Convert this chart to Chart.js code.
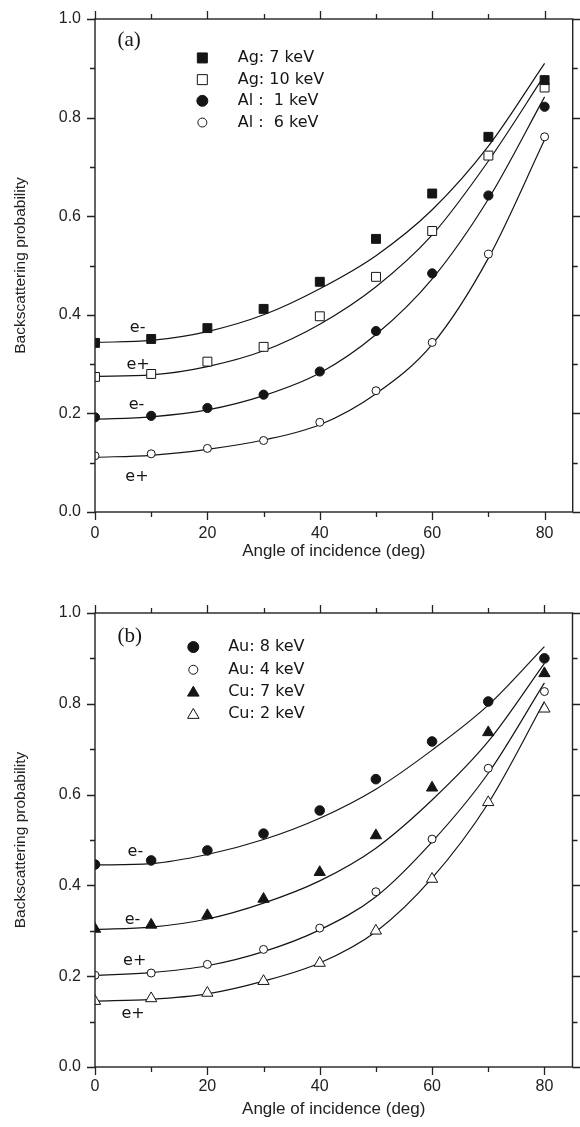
<!DOCTYPE html>
<html>
<head>
<meta charset="utf-8">
<script src="https://cdn.jsdelivr.net/npm/chart.js@4/dist/chart.umd.min.js"></script>
<style>
  body { margin: 0; background: #fff; }
  canvas { display: block; }
</style>
</head>
<body>
<canvas id="chart-a" width="580" height="563"></canvas>
<canvas id="chart-b" width="580" height="564"></canvas>
<script>
// angles of incidence (deg)
const angles = [0, 10, 20, 30, 40, 50, 60, 70, 80];

// panel (a) measured points
const agE7  = [0.343, 0.351, 0.373, 0.412, 0.467, 0.554, 0.646, 0.761, 0.876];
const agP10 = [0.274, 0.280, 0.305, 0.335, 0.397, 0.477, 0.570, 0.723, 0.861];
const alE1  = [0.192, 0.195, 0.211, 0.238, 0.285, 0.367, 0.484, 0.642, 0.822];
const alP6  = [0.114, 0.118, 0.129, 0.145, 0.182, 0.246, 0.344, 0.523, 0.761];
const fitAgE7  = [0.344, 0.348, 0.366, 0.400, 0.453, 0.520, 0.613, 0.742, 0.910];
const fitAgP10 = [0.275, 0.278, 0.295, 0.327, 0.381, 0.457, 0.562, 0.712, 0.886];
const fitAlE1  = [0.188, 0.193, 0.207, 0.236, 0.282, 0.360, 0.473, 0.635, 0.842];
const fitAlP6  = [0.111, 0.115, 0.127, 0.146, 0.177, 0.240, 0.340, 0.515, 0.755];

// panel (b) measured points
const auE8 = [0.446, 0.455, 0.477, 0.514, 0.565, 0.634, 0.717, 0.805, 0.900];
const cuE7 = [0.304, 0.313, 0.334, 0.370, 0.429, 0.510, 0.615, 0.737, 0.867];
const auP4 = [0.202, 0.207, 0.226, 0.259, 0.306, 0.386, 0.502, 0.658, 0.827];
const cuP2 = [0.145, 0.151, 0.163, 0.189, 0.229, 0.300, 0.414, 0.583, 0.789];
// panel (b) fitted curves
const fitAuE8 = [0.445, 0.448, 0.468, 0.501, 0.548, 0.612, 0.698, 0.797, 0.926];
const fitCuE7 = [0.303, 0.308, 0.326, 0.361, 0.410, 0.482, 0.588, 0.717, 0.889];
const fitAuP4 = [0.202, 0.208, 0.223, 0.254, 0.302, 0.375, 0.496, 0.647, 0.846];
const fitCuP2 = [0.145, 0.149, 0.161, 0.189, 0.229, 0.298, 0.416, 0.581, 0.805];

const legendA = ['Ag: 7 keV', 'Ag: 10 keV', 'Al :  1 keV', 'Al :  6 keV'];
const legendB = ['Au: 8 keV', 'Au: 4 keV', 'Cu: 7 keV', 'Cu: 2 keV'];
const curveTagsA = ['e-', 'e+', 'e-', 'e+'];
const curveTagsB = ['e-', 'e-', 'e+', 'e+'];

const xTicks = [0, 20, 40, 60, 80];
const yTicks = [0.0, 0.2, 0.4, 0.6, 0.8, 1.0];

const INK = '#151515';
const sans = "'Liberation Sans', Arial, sans-serif";

function pts(values) {
  return angles.map((a, i) => ({ x: a, y: values[i] }));
}

function markers(label, values, shape, filled, r) {
  return {
    type: 'scatter', label, data: pts(values), order: 0,
    pointStyle: shape, pointRadius: r,
    pointBackgroundColor: filled ? INK : '#fff',
    pointBorderColor: INK, pointBorderWidth: 1
  };
}

function fitLine(values) {
  return {
    type: 'line', data: pts(values), order: 1, showLine: true,
    borderColor: INK, borderWidth: 1.2, pointRadius: 0,
    cubicInterpolationMode: 'monotone', fill: false
  };
}

function drawSymbol(ctx, shape, filled, cx, cy, r) {
  ctx.beginPath();
  if (shape === 'rect') {
    ctx.rect(cx - r, cy - r, 2 * r, 2 * r);
  } else if (shape === 'circle') {
    ctx.arc(cx, cy, r, 0, Math.PI * 2);
  } else {
    ctx.moveTo(cx, cy - r * 1.05);
    ctx.lineTo(cx + r * 1.05, cy + r * 0.75);
    ctx.lineTo(cx - r * 1.05, cy + r * 0.75);
    ctx.closePath();
  }
  ctx.fillStyle = filled ? INK : '#fff';
  ctx.fill();
  ctx.lineWidth = 1;
  ctx.strokeStyle = INK;
  ctx.stroke();
}

// frame, minor/major ticks, panel tag, curve tags and the legend
const decor = {
  id: 'decor',
  afterDatasetsDraw(chart, args, opts) {
    const { ctx, chartArea: a, scales: { x, y } } = chart;
    ctx.save();
    ctx.strokeStyle = '#222';
    ctx.lineWidth = 1.4;
    ctx.strokeRect(a.left, a.top, a.right - a.left, a.bottom - a.top);

    ctx.lineWidth = 1.3;
    ctx.beginPath();
    for (let v = 0; v <= 80; v += 10) {
      const px = Math.round(x.getPixelForValue(v)) + 0.5;
      const len = v % 20 === 0 ? 8 : 5;
      ctx.moveTo(px, a.bottom); ctx.lineTo(px, a.bottom + len);
      ctx.moveTo(px, a.top); ctx.lineTo(px, a.top - len);
    }
    for (let i = 0; i <= 10; i++) {
      const py = Math.round(y.getPixelForValue(i / 10)) + 0.5;
      const len = i % 2 === 0 ? 8 : 5;
      ctx.moveTo(a.left, py); ctx.lineTo(a.left - len, py);
      ctx.moveTo(a.right, py); ctx.lineTo(a.right + len, py);
    }
    ctx.stroke();

    ctx.fillStyle = INK;
    ctx.textBaseline = 'middle';
    ctx.textAlign = 'left';
    ctx.font = "21px 'Liberation Serif', 'Times New Roman', serif";
    ctx.fillText(opts.tag, x.getPixelForValue(opts.tagAt[0]), y.getPixelForValue(opts.tagAt[1]));

    ctx.font = "16px 'DejaVu Sans', sans-serif";
    opts.tags.forEach((t, i) => {
      ctx.fillText(t, x.getPixelForValue(opts.tagX[i]), y.getPixelForValue(opts.tagY[i]));
    });

    opts.legend.forEach((text, i) => {
      const cy = y.getPixelForValue(opts.legendY[i]);
      const s = opts.symbols[i];
      drawSymbol(ctx, s[0], s[1], x.getPixelForValue(opts.symbolX), cy, s[2]);
      ctx.fillStyle = INK;
      ctx.fillText(text, x.getPixelForValue(opts.textX), cy);
    });
    ctx.restore();
  }
};

function makeOptions(top, xHeight, tickPad, titlePad, decorOpts) {
  return {
    responsive: false,
    animation: false,
    events: [],
    layout: { padding: { left: 0, right: 2, top: top, bottom: 0 } },
    plugins: { legend: { display: false }, tooltip: { enabled: false }, decor: decorOpts },
    scales: {
      x: {
        type: 'linear', min: 0, max: 85,
        grid: { display: false }, border: { display: false },
        afterBuildTicks: (s) => { s.ticks = xTicks.map(v => ({ value: v })); },
        ticks: { includeBounds: false, padding: tickPad, color: '#222', font: { family: sans, size: 16 } },
        title: { display: true, text: 'Angle of incidence (deg)', color: '#222',
                 font: { family: sans, size: 17 }, padding: { top: 0, bottom: titlePad } },
        afterFit: (s) => { s.height = xHeight; }
      },
      y: {
        type: 'linear', min: 0, max: 1,
        grid: { display: false }, border: { display: false },
        afterBuildTicks: (s) => { s.ticks = yTicks.map(v => ({ value: v })); },
        ticks: { padding: 6, color: '#222', font: { family: sans, size: 16 },
                 callback: (v) => v.toFixed(1) },
        title: { display: true, text: 'Backscattering probability', color: '#222',
                 font: { family: sans, size: 15.5 }, padding: { top: 11, bottom: 0 } },
        afterFit: (s) => { s.width = 95; }
      }
    }
  };
}

new Chart(document.getElementById('chart-a'), {
  type: 'scatter',
  data: {
    datasets: [
      markers(legendA[0], agE7, 'rect', true, 6.3),
      markers(legendA[1], agP10, 'rect', false, 6.3),
      markers(legendA[2], alE1, 'circle', true, 4.6),
      markers(legendA[3], alP6, 'circle', false, 4),
      fitLine(fitAgE7), fitLine(fitAgP10), fitLine(fitAlE1), fitLine(fitAlP6)
    ]
  },
  options: makeOptions(19, 51, 4, 1, {
    tag: '(a)', tagAt: [4.0, 0.957],
    tags: curveTagsA, tagX: [6.2, 5.6, 6.0, 5.4], tagY: [0.373, 0.298, 0.217, 0.072],
    legend: legendA, legendY: [0.921, 0.877, 0.834, 0.790],
    symbolX: 19.1, textX: 25.4,
    symbols: [['rect', true, 5], ['rect', false, 5], ['circle', true, 5.5], ['circle', false, 4.5]]
  }),
  plugins: [decor]
});

new Chart(document.getElementById('chart-b'), {
  type: 'scatter',
  data: {
    datasets: [
      markers(legendB[0], auE8, 'circle', true, 4.8),
      markers(legendB[1], auP4, 'circle', false, 4),
      markers(legendB[2], cuE7, 'triangle', true, 6.5),
      markers(legendB[3], cuP2, 'triangle', false, 6.5),
      fitLine(fitAuE8), fitLine(fitCuE7), fitLine(fitAuP4), fitLine(fitCuP2)
    ]
  },
  options: makeOptions(50, 60, 2, 7, {
    tag: '(b)', tagAt: [4.0, 0.948],
    tags: curveTagsB, tagX: [5.8, 5.3, 5.0, 4.7], tagY: [0.474, 0.324, 0.233, 0.117],
    legend: legendB, legendY: [0.925, 0.875, 0.826, 0.777],
    symbolX: 17.5, textX: 23.7,
    symbols: [['circle', true, 5.5], ['circle', false, 4.5], ['triangle', true, 5.5], ['triangle', false, 5.5]]
  }),
  plugins: [decor]
});
</script>
</body>
</html>
